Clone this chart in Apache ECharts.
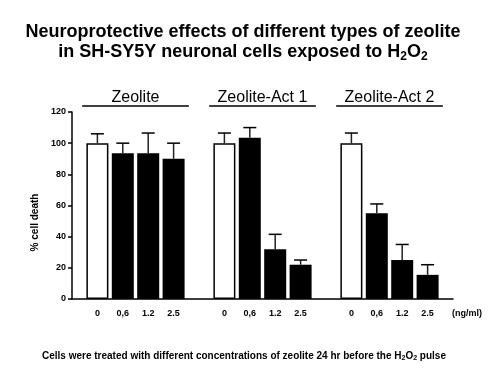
<!DOCTYPE html>
<html><head><meta charset="utf-8">
<script src="https://cdn.jsdelivr.net/npm/echarts@6/dist/echarts.min.js"></script>
<style>html,body{margin:0;padding:0;background:#fff}#c{width:497px;height:370px}</style>
</head><body><div id="c"></div>
<script>
const groups = ['Zeolite', 'Zeolite-Act 1', 'Zeolite-Act 2'];
const concentrations = ['0', '0,6', '1.2', '2.5'];
const zeoliteMean = [100, 93.5, 93.5, 90];
const zeoliteErr = [6, 6.5, 13, 10];
const act1Mean = [100, 103.5, 32, 22];
const act1Err = [6.5, 6.5, 9.5, 3];
const act2Mean = [100, 55, 25, 15.5];
const act2Err = [6.5, 6, 10, 6.5];
const yMin = 0, yMax = 120, yStep = 20;
const unitLabel = '(ng/ml)';

const means = [zeoliteMean, act1Mean, act2Mean];
const errs = [zeoliteErr, act1Err, act2Err];
const FONT = '"Liberation Sans", Arial, sans-serif';

const categories = [''];
const barData = ['-'];
const errData = [];
const groupIdx = [];
groups.forEach((gname, g) => {
  const start = categories.length;
  concentrations.forEach((c, i) => {
    const idx = categories.length;
    categories.push(c);
    barData.push({
      value: means[g][i],
      itemStyle: i === 0 ? {color: '#fff', borderColor: '#000', borderWidth: 1.5} : {color: '#000'}
    });
    errData.push([idx, means[g][i] + errs[g][i], means[g][i]]);
  });
  groupIdx.push([start, categories.length - 1]);
  categories.push(g < groups.length - 1 ? '' : unitLabel);
  barData.push('-');
});

const chart = echarts.init(document.getElementById('c'), null, {renderer: 'canvas'});
const option = {
  animation: false,
  backgroundColor: '#fff',
  textStyle: {fontFamily: FONT},
  title: [{
    left: 243, top: 23, textAlign: 'center', padding: 0,
    text: '{t|Neuroprotective effects of different types of zeolite}\n{t|in SH-SY5Y neuronal cells exposed to H}{s|2}{t|O}{s|2}',
    textStyle: {
      rich: {
        t: {fontSize: 18, fontWeight: 'bold', color: '#000', fontFamily: FONT, lineHeight: 19},
        s: {fontSize: 12, fontWeight: 'bold', color: '#000', fontFamily: FONT, padding: [9, 0, 0, 0]}
      }
    }
  }, {
    left: 244, top: 350, textAlign: 'center', padding: 0,
    text: '{c|Cells were treated with different concentrations of zeolite 24 hr before the H}{s|2}{c|O}{s|2}{c| pulse}',
    textStyle: {
      rich: {
        c: {fontSize: 10, fontWeight: 'bold', color: '#000', fontFamily: FONT, lineHeight: 12},
        s: {fontSize: 7, fontWeight: 'bold', color: '#000', fontFamily: FONT, padding: [5, 0, 0, 0]}
      }
    }
  }],
  grid: {left: 72, right: 44, top: 112, bottom: 71, containLabel: false},
  xAxis: {
    type: 'category', data: categories, boundaryGap: false,
    axisLine: {lineStyle: {color: '#000', width: 1.5}},
    axisTick: {show: false},
    axisLabel: {
      interval: 0, margin: 10, color: '#000', fontWeight: 'bold', fontSize: 9, fontFamily: FONT,
      formatter: v => v === unitLabel ? '{u|' + v + '}' : v,
      rich: {u: {padding: [0, 0, 0, 28], fontWeight: 'bold', fontSize: 9, color: '#000', fontFamily: FONT}}
    },
    splitLine: {show: false}
  },
  yAxis: {
    type: 'value', min: yMin, max: yMax, interval: yStep,
    name: '% cell death', nameLocation: 'middle', nameGap: 26,
    nameTextStyle: {fontSize: 10, fontWeight: 'bold', color: '#000', fontFamily: FONT, padding: [0, 34, 0, 0]},
    axisLine: {show: true, lineStyle: {color: '#000', width: 1.5}},
    axisTick: {show: true, length: 4, lineStyle: {color: '#000', width: 1.5}},
    axisLabel: {margin: 6, color: '#000', fontWeight: 'bold', fontSize: 9, fontFamily: FONT},
    splitLine: {show: false}
  },
  series: [{
    type: 'bar', data: barData, barWidth: 22, z: 2
  }, {
    type: 'custom', data: errData, z: 3,
    encode: {x: 0, y: 1},
    renderItem: (params, api) => {
      const idx = api.value(0);
      const top = api.coord([idx, api.value(1)]);
      const base = api.coord([idx, api.value(2)]);
      const half = 6.5;
      return {type: 'group', children: [
        {type: 'line', shape: {x1: base[0], y1: base[1], x2: top[0], y2: top[1]}, style: {stroke: '#222', lineWidth: 1.5}},
        {type: 'line', shape: {x1: top[0] - half, y1: top[1], x2: top[0] + half, y2: top[1]}, style: {stroke: '#000', lineWidth: 1.5}}
      ]};
    }
  }]
};
chart.setOption(option);

const p0 = chart.convertToPixel({gridIndex: 0}, [0, yMax]);
const p1 = chart.convertToPixel({gridIndex: 0}, [1, yMax]);
const pitch = p1[0] - p0[0];
const yTop = p0[1];
const graphics = [];
groups.forEach((gname, g) => {
  const a = chart.convertToPixel({gridIndex: 0}, [groupIdx[g][0], yMax])[0];
  const b = chart.convertToPixel({gridIndex: 0}, [groupIdx[g][1], yMax])[0];
  const cx = (a + b) / 2;
  graphics.push({type: 'text', x: cx, y: yTop - 14, style: {text: gname, fontSize: 16, fontFamily: FONT, fill: '#000', align: 'center', verticalAlign: 'middle'}});
  graphics.push({type: 'line', shape: {x1: a - 0.6 * pitch, y1: yTop - 6, x2: b + 0.6 * pitch, y2: yTop - 6}, style: {stroke: '#000', lineWidth: 1.5}});
});
chart.setOption({graphic: graphics});
</script>
</body></html>
